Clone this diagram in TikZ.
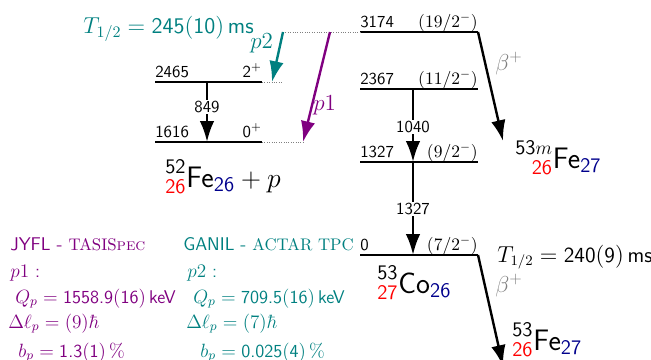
\documentclass[tikz,border=0pt]{standalone}
\usetikzlibrary{arrows.meta}
\usepackage{amsmath}
\usepackage{mathtools}

\definecolor{jyflcol}{rgb}{0.5,0,0.5}
\definecolor{ganilcol}{rgb}{0,0.5,0.5}
\definecolor{ncol}{rgb}{0,0,0.55}

\newcommand{\nucl}[4]{$\prescript{\text{#1}}{\textcolor{red}{\text{#2}}}{\text{#3}}_{\textcolor{ncol}{\text{#4}}}$}
\newcommand{\setup}[1]{{\rmfamily\fontsize{10.5}{12}\selectfont #1}}

\begin{document}
\begin{tikzpicture}[
    x=0.625pt, y=-0.625pt, font=\sffamily,
    level/.style={line width=0.8pt},
    feed/.style={densely dotted, line width=0.5pt, gray},
    gam/.style={-{Latex[length=13pt,width=9pt]}, line width=1.7pt},
    decay/.style={-{Latex[length=13pt,width=9pt]}, line width=1.5pt},
    elab/.style={anchor=base west, inner sep=0pt, yshift=3pt, font=\sffamily\fontsize{10.5}{12}\selectfont},
    jlab/.style={anchor=base east, inner sep=0pt, yshift=3pt, font=\sffamily\fontsize{10.5}{12}\selectfont},
    glab/.style={fill=white, inner sep=1pt, font=\sffamily\fontsize{10.5}{12}\selectfont},
    nuc/.style={anchor=base west, inner sep=0pt, font=\sffamily\fontsize{18.5}{21}\selectfont},
    big/.style={anchor=base west, inner sep=0pt, font=\sffamily\fontsize{14}{16}\selectfont},
    info/.style={anchor=base west, inner sep=0pt, font=\sffamily\fontsize{11.5}{13}\selectfont}
]
    \clip (0,0) rectangle (651,359);

    % 52Fe + p levels
    \coordinate (a2465) at (155,82);
    \coordinate (b2465) at (262,82);
    \coordinate (e2465) at (283,82);
    \coordinate (a1616) at (155,142);
    \coordinate (b1616) at (262,142);
    \coordinate (e1616) at (303,142);
    % 53Co levels
    \coordinate (a3174) at (360,32);
    \coordinate (b3174) at (478,32);
    \coordinate (e3174) at (283,32);
    \coordinate (a2367) at (360,89);
    \coordinate (b2367) at (478,89);
    \coordinate (a1327) at (360,162);
    \coordinate (b1327) at (478,162);
    \coordinate (a0) at (360,255);
    \coordinate (b0) at (478,255);

    \draw[level] (a2465) -- (b2465);
    \draw[feed] (b2465) -- (e2465);
    \draw[level] (a1616) -- (b1616);
    \draw[feed] (b1616) -- (e1616);
    \draw[level] (a3174) -- (b3174);
    \draw[feed] (e3174) -- (a3174);
    \draw[level] (a2367) -- (b2367);
    \draw[level] (a1327) -- (b1327);
    \draw[level] (a0) -- (b0);

    \node[elab] at (a2465) {2465};
    \node[jlab] at (b2465) {2$^+$};
    \node[elab] at (a1616) {1616};
    \node[jlab] at (b1616) {0$^+$};
    \node[elab] at (a3174) {3174};
    \node[jlab] at (b3174) {$(19/2^-)$};
    \node[elab] at (a2367) {2367};
    \node[jlab] at (b2367) {$(11/2^-)$};
    \node[elab] at (a1327) {1327};
    \node[jlab] at (b1327) {$(9/2^-)$};
    \node[elab] at (a0) {0};
    \node[jlab] at (b0) {$(7/2^-)$};

    % gamma transitions
    \coordinate (g849s) at (207,82);
    \coordinate (g849e) at (207,142);
    \coordinate (g1040s) at (413,89);
    \coordinate (g1040e) at (413,162);
    \coordinate (g1327s) at (413,162);
    \coordinate (g1327e) at (413,255);
    \draw[gam] (g849s) -- (g849e);
    \draw[gam] (g1040s) -- (g1040e);
    \draw[gam] (g1327s) -- (g1327e);
    \node[glab] (l849) at (207,107) {849};
    \node[glab] (l1040) at (413,127) {1040};
    \node[glab] (l1327) at (413,209) {1327};

    % proton emission
    \coordinate (p1s) at (330,32);
    \coordinate (p2e) at (272,82);
    \draw[decay, ganilcol] (e3174) -- (p2e);
    \draw[decay, jyflcol] (p1s) -- (e1616);
    \node[big, ganilcol] (p2) at (250,48) {$p2$};
    \node[big, jyflcol] (p1) at (313,110) {$p1$};
    \node[big, ganilcol] (thalfm) at (83,33) {$T_{1/2} = \text{245}(\text{10})\,\text{ms}$};

    % beta decays
    \coordinate (bms) at (503,141);
    \coordinate (bgs) at (503,366);
    \draw[decay] (b3174) -- (bms);
    \draw[decay] (b0) -- (bgs);
    \node[big, gray] (bplm) at (495,70) {$\beta^+$};
    \node[big, gray] (bplg) at (495,292) {$\beta^+$};
    \node[big, font=\sffamily\fontsize{13.5}{16}\selectfont] (thalfg) at (497,262) {$T_{1/2} = \text{240}(\text{9})\,\text{ms}$};

    % nuclides
    \node[nuc] (fe52) at (165,187) {\nucl{52}{26}{Fe}{26}${}+p$};
    \node[nuc] (fe53m) at (515,168) {\nucl{53$m$}{26}{Fe}{27}};
    \node[nuc] (co53) at (377,293) {\nucl{53}{27}{Co}{26}};
    \node[nuc] (fe53) at (512,350) {\nucl{53}{26}{Fe}{27}};

    % experiments
    \node[info, jyflcol] (jyfl) at (10,250) {JYFL - \setup{TASIS\textsc{pec}}};
    \node[info, jyflcol] (jp) at (10,277) {$p1$ :};
    \node[info, jyflcol] (jq) at (15,303) {$Q_p = \text{1558.9}(\text{16})\,\text{keV}$};
    \node[info, jyflcol] (jl) at (8,328) {$\Delta\ell_p = (9)\hbar$};
    \node[info, jyflcol] (jb) at (18,357) {$b_p = \text{1.3}(\text{1})\,\%$};
    \node[info, ganilcol] (ganil) at (183,250) {GANIL - \setup{ACTAR TPC}};
    \node[info, ganilcol] (gp) at (187,277) {$p2$ :};
    \node[info, ganilcol] (gq) at (193,303) {$Q_p = \text{709.5}(\text{16})\,\text{keV}$};
    \node[info, ganilcol] (gl) at (186,328) {$\Delta\ell_p = (7)\hbar$};
    \node[info, ganilcol] (gb) at (200,357) {$b_p = \text{0.025}(\text{4})\,\%$};
\end{tikzpicture}
\end{document}
